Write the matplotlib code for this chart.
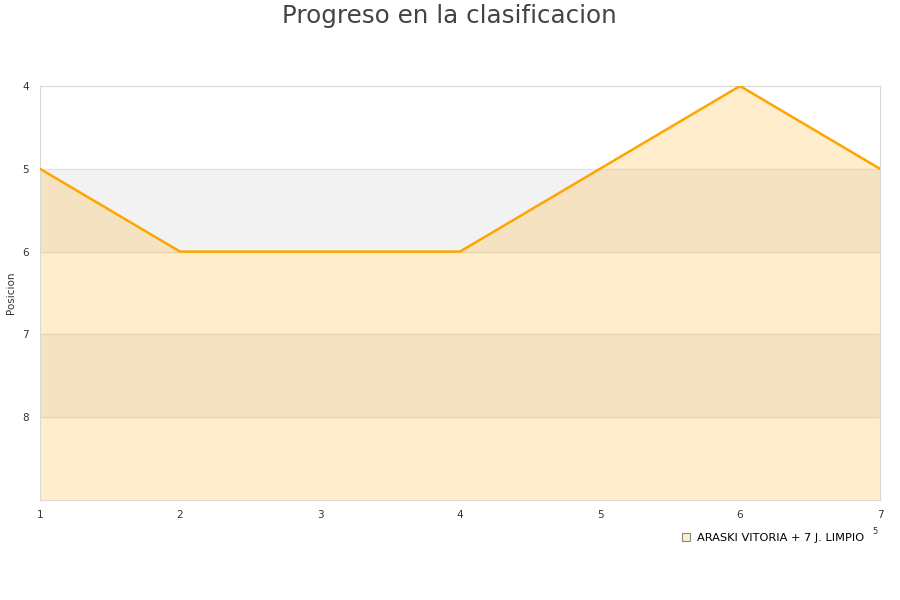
import matplotlib

matplotlib.use("Agg")
import matplotlib.pyplot as plt  # noqa: E402
from matplotlib.lines import Line2D  # noqa: E402

jornadas = [1, 2, 3, 4, 5, 6, 7]
posicion = [5, 6, 6, 6, 5, 4, 5]
equipo = "ARASKI VITORIA + 7 J. LIMPIO"
y_ticks = [4, 5, 6, 7, 8]

fig = plt.figure(figsize=(9, 6), dpi=100)
ax = fig.add_axes([40 / 900, 100 / 600, 840 / 900, 414 / 600])

# alternating bands behind the area
for lo in (5, 7):
    ax.axhspan(lo, lo + 1, color="#f2f2f2", zorder=0)
for y in y_ticks[1:]:
    ax.axhline(y, color="#e0e0e0", linewidth=0.8, zorder=1)

ax.fill_between(jornadas, posicion, 9, color="#ffa500", alpha=0.2, linewidth=0, zorder=2)
ax.plot(jornadas, posicion, color="#ffa500", linewidth=1.8, zorder=3)

ax.set_xlim(1, 7)
ax.set_ylim(9, 4)
ax.set_xticks(jornadas)
ax.set_yticks(y_ticks)
ax.tick_params(length=0, labelsize=7.5, colors="#333333")
ax.tick_params(axis="x", pad=7)
ax.tick_params(axis="y", pad=8)
for s in ax.spines.values():
    s.set_color("#d9d9d9")
    s.set_linewidth(0.8)

fig.text(11 / 900, 1 - 293 / 600, "Posicion", rotation=90, ha="center", va="center",
         fontsize=7.5, color="#333333")
fig.text(0.499, 1 - 16 / 600, "Progreso en la clasificacion", ha="center", va="center",
         fontsize=17.7, color="#444444")
fig.text(875 / 900, 1 - 532 / 600, "5", ha="center", va="center", fontsize=6, color="#333333")

handle = Line2D([], [], marker="s", linestyle="none", markersize=6,
                markerfacecolor="#ffedcc", markeredgecolor="#888888", markeredgewidth=0.8)
fig.legend([handle], [equipo], loc="center left", bbox_to_anchor=(670 / 900, 1 - 538 / 600),
           frameon=False, fontsize=8.2, handletextpad=0.5, handlelength=1.0)

fig.savefig("out.png", dpi=100)
